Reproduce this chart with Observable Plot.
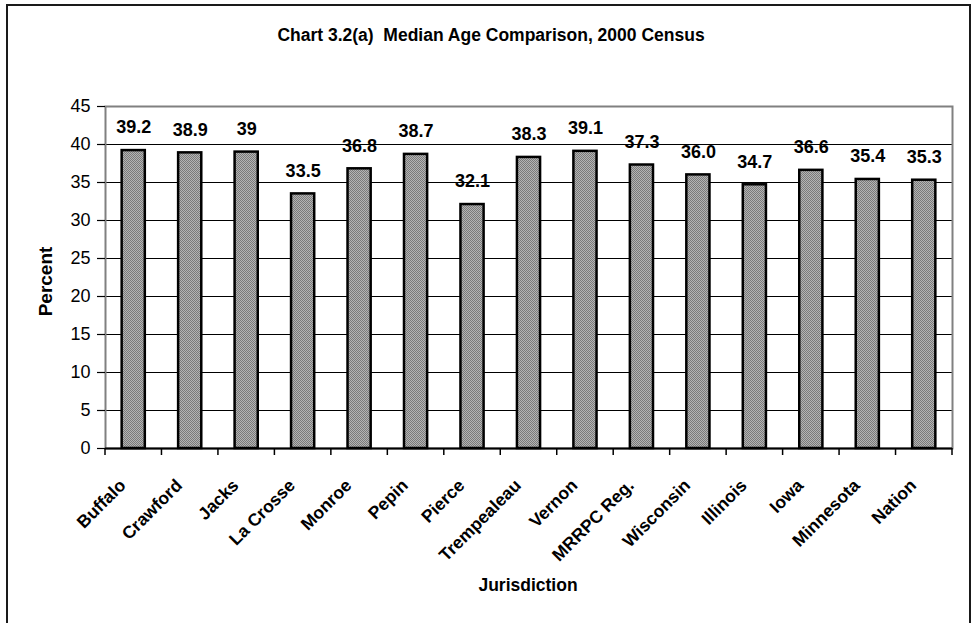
<!DOCTYPE html>
<html><head><meta charset="utf-8">
<script src="https://cdn.jsdelivr.net/npm/d3@7"></script>
<script src="https://cdn.jsdelivr.net/npm/@observablehq/plot@0.6"></script>
<style>
body{margin:0;background:#fff;overflow:hidden;font-family:"Liberation Sans",Arial,sans-serif;}
#wrap{position:relative;width:973px;height:623px;}
#border{position:absolute;left:6px;top:4px;width:961px;height:640px;border:2px solid #1a1a1a;pointer-events:none;}
</style></head><body><div id="wrap"><div id="chart"></div><div id="border"></div></div>
<script>
const jurisdictions = ["Buffalo","Crawford","Jackson","La Crosse","Monroe","Pepin","Pierce","Trempealeau","Vernon","MRRPC Reg.","Wisconsin","Illinois","Iowa","Minnesota","Nation"];
const tickLabels = ["Buffalo","Crawford","Jacks","La Crosse","Monroe","Pepin","Pierce","Trempealeau","Vernon","MRRPC Reg.","Wisconsin","Illinois","Iowa","Minnesota","Nation"];
const medianAge = [39.2,38.9,39,33.5,36.8,38.7,32.1,38.3,39.1,37.3,36.0,34.7,36.6,35.4,35.3];
const valueLabels = ["39.2","38.9","39","33.5","36.8","38.7","32.1","38.3","39.1","37.3","36.0","34.7","36.6","35.4","35.3"];
const yTicks = [0,5,10,15,20,25,30,35,40,45];
const title = "Chart 3.2(a)  Median Age Comparison, 2000 Census";
const yLabel = "Percent";
const xLabel = "Jurisdiction";

const data = jurisdictions.map((j,i)=>({j, v: medianAge[i], label: valueLabels[i], tick: tickLabels[i]}));
const font = "Liberation Sans, Arial, sans-serif";

const plot = Plot.plot({
  width: 973, height: 623,
  marginLeft: 105, marginRight: 21, marginTop: 106, marginBottom: 175,
  style: {fontFamily: font, background: "white", color: "black"},
  x: {domain: jurisdictions, paddingInner: 0.59, paddingOuter: 0.295, round: false, axis: null},
  y: {domain: [0, 45], axis: null},
  marks: [
    Plot.ruleY(yTicks.filter(d => d > 0 && d < 45), {stroke: "#000", strokeWidth: 1.2}),
    Plot.frame({stroke: "#808080", strokeWidth: 2}),
    Plot.ruleY([0], {stroke: "#000", strokeWidth: 2}),
    Plot.axisY({ticks: yTicks, tickSize: 8, tickPadding: 7, fontSize: 18, label: null, strokeWidth: 1.2}),
    Plot.barY(data, {x: "j", y: "v", fill: "url(#stipple)", stroke: "#000", strokeWidth: 2.5}),
    Plot.text(data, {x: "j", y: "v", text: "label", dy: -23, fontSize: 18, fontWeight: "bold"}),
    Plot.text(data, {x: "j", text: "tick", frameAnchor: "bottom", rotate: -45, textAnchor: "end", lineAnchor: "bottom", dx: -7, dy: 38, fontSize: 17.5, fontWeight: "bold"}),
    Plot.text([title], {frameAnchor: "top", lineAnchor: "middle", dx: -38, dy: -71, fontSize: 17.5, fontWeight: "bold"}),
    Plot.text([yLabel], {frameAnchor: "left", rotate: -90, textAnchor: "middle", lineAnchor: "middle", dx: -60, dy: 4, fontSize: 19, fontWeight: "bold"}),
    Plot.text([xLabel], {frameAnchor: "bottom", lineAnchor: "middle", dx: -1, dy: 137, fontSize: 17.5, fontWeight: "bold"})
  ]
});

const svg = d3.select(plot);
const defs = svg.insert("defs", ":first-child");
const pat = defs.append("pattern").attr("id", "stipple").attr("patternUnits", "userSpaceOnUse").attr("width", 2).attr("height", 2);
pat.append("rect").attr("width", 2).attr("height", 2).attr("fill", "#b4b4b4");
pat.append("rect").attr("width", 1).attr("height", 1).attr("fill", "#7a7a7a");
pat.append("rect").attr("x", 1).attr("y", 1).attr("width", 1).attr("height", 1).attr("fill", "#7a7a7a");

// category boundary tick marks on the x axis
const xs = plot.scale("x"), ys = plot.scale("y");
const step = xs.step, bw = xs.bandwidth;
const y0 = ys.apply(0);
const bounds = jurisdictions.map(j => xs.apply(j) - (step - bw) / 2);
bounds.push(xs.apply(jurisdictions[jurisdictions.length - 1]) + bw + (step - bw) / 2);
const g = svg.append("g").attr("stroke", "#000").attr("stroke-width", 1.5);
bounds.forEach(b => g.append("line").attr("x1", b).attr("x2", b).attr("y1", y0).attr("y2", y0 + 7));

document.getElementById("chart").appendChild(plot);
</script></body></html>
